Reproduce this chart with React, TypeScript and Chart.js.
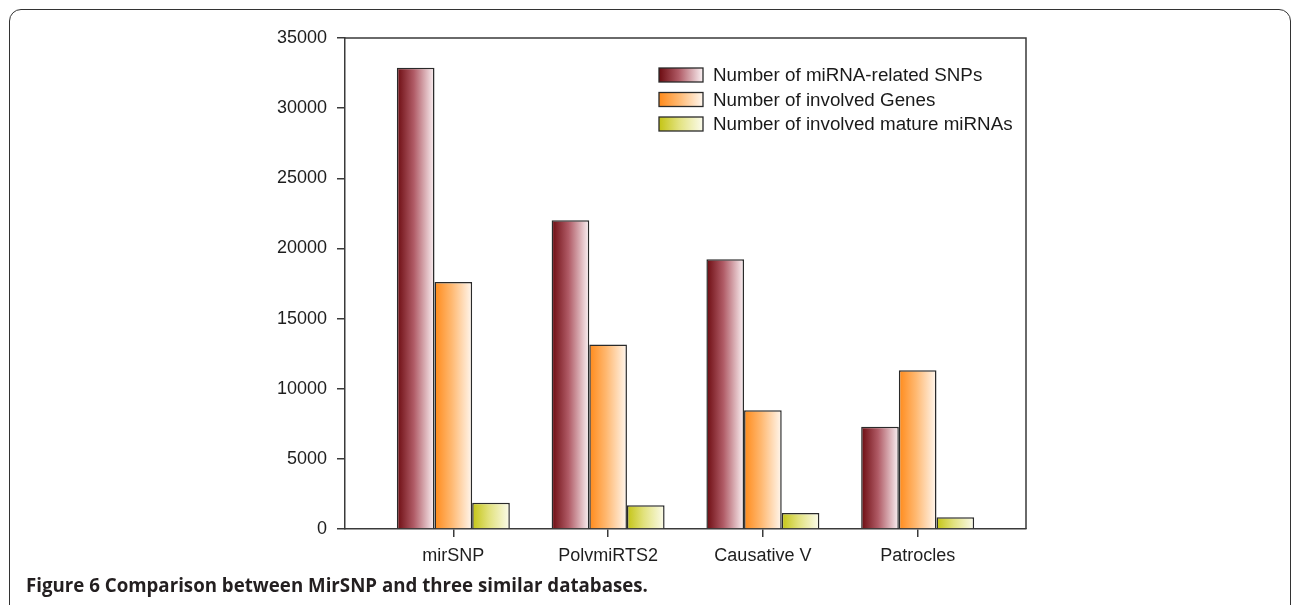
import React, { useEffect, useRef } from "react";
import { Chart, registerables } from "chart.js";

Chart.register(...registerables);

const CATEGORIES = ["mirSNP", "PolvmiRTS2", "Causative V", "Patrocles"];
const SERIES_LABELS = [
  "Number of miRNA-related SNPs",
  "Number of involved Genes",
  "Number of involved mature miRNAs",
];
const SNP_COUNTS = [32880, 22000, 19220, 7280];
const GENE_COUNTS = [17600, 13150, 8470, 11320];
const MIRNA_COUNTS = [1880, 1690, 1140, 835];
const Y_MIN = 0;
const Y_MAX = 35000;
const Y_STEP = 5000;

const SERIES = [SNP_COUNTS, GENE_COUNTS, MIRNA_COUNTS];

const GRADIENT_STOPS: string[][] = [
  ["#6c0b10", "#b05b66", "#fbf2f4"],
  ["#ff8a1a", "#ffb870", "#fff7ef"],
  ["#c4c414", "#e2e27e", "#fbfbec"],
];

const CAT_PCT = 0.73;
const FONT = '"Liberation Sans", Arial, sans-serif';

function makeGradient(c: CanvasRenderingContext2D, left: number, width: number, di: number) {
  const g = c.createLinearGradient(left, 0, left + width, 0);
  const s = GRADIENT_STOPS[di];
  g.addColorStop(0, s[0]);
  g.addColorStop(0.45, s[1]);
  g.addColorStop(1, s[2]);
  return g;
}

function barFill(ctx: any, di: number) {
  const chart = ctx.chart;
  const xs = chart.scales && chart.scales.x;
  if (!xs || ctx.dataIndex === undefined || !chart.chartArea) return GRADIENT_STOPS[di][0];
  const c = xs.getPixelForValue(ctx.dataIndex);
  const cw = xs.getPixelForValue(1) - xs.getPixelForValue(0);
  const gw = cw * CAT_PCT;
  const bw = gw / SERIES.length;
  const left = c - gw / 2 + di * bw;
  return makeGradient(chart.ctx, left, bw, di);
}

const framePlugin = {
  id: "frame",
  afterDatasetsDraw(chart: any) {
    const { left, top, right, bottom } = chart.chartArea;
    const c = chart.ctx;
    c.save();
    c.strokeStyle = "#3a3a3a";
    c.lineWidth = 1.5;
    c.beginPath();
    c.moveTo(left, top);
    c.lineTo(right, top);
    c.lineTo(right, bottom);
    c.stroke();
    c.restore();
  },
};

const legendPlugin = {
  id: "customLegend",
  afterDraw(chart: any) {
    const { left, top } = chart.chartArea;
    const c = chart.ctx;
    const bx = left + 314;
    const bw = 44;
    const bh = 14;
    const tx = left + 368;
    c.save();
    SERIES_LABELS.forEach((label, i) => {
      const cy = top + 37 + i * 24.5;
      c.fillStyle = makeGradient(c, bx, bw, i);
      c.fillRect(bx, cy - bh / 2, bw, bh);
      c.strokeStyle = "#2a2a2a";
      c.lineWidth = 1.3;
      c.strokeRect(bx, cy - bh / 2, bw, bh);
      c.fillStyle = "#1a1a1a";
      c.font = `18.8px ${FONT}`;
      c.textBaseline = "middle";
      c.textAlign = "left";
      c.fillText(label, tx, cy + 1);
    });
    c.restore();
  },
};

export default function App() {
  const ref = useRef<HTMLCanvasElement | null>(null);

  useEffect(() => {
    if (!ref.current) return;
    Chart.defaults.font.family = FONT;
    const chart = new Chart(ref.current, {
      type: "bar",
      data: {
        datasets: SERIES.map((values, di) => ({
          label: SERIES_LABELS[di],
          data: values.map((v, i) => ({ x: i, y: v })),
          backgroundColor: (ctx: any) => barFill(ctx, di),
          borderColor: "#2a2a2a",
          borderWidth: 1.5,
          borderSkipped: "bottom",
          categoryPercentage: CAT_PCT,
          barPercentage: 1,
        })),
      },
      options: {
        responsive: false,
        animation: false,
        events: [],
        layout: { padding: { left: 0, right: 266, top: 38, bottom: 0 } },
        plugins: {
          legend: { display: false },
          tooltip: { enabled: false },
          title: { display: false },
        },
        scales: {
          x: {
            type: "linear",
            min: -0.7,
            max: CATEGORIES.length - 1 + 0.7,
            offset: false,
            afterBuildTicks: (s: any) => {
              s.ticks = CATEGORIES.map((_, i) => ({ value: i }));
            },
            afterFit: (s: any) => {
              s.height = 76;
            },
            ticks: {
              autoSkip: false,
              maxRotation: 0,
              minRotation: 0,
              padding: 8,
              color: "#1e1e1e",
              font: { size: 18, family: FONT },
              callback: (v: any) => CATEGORIES[v as number] ?? "",
            },
            grid: {
              offset: false,
              drawOnChartArea: false,
              drawTicks: true,
              tickLength: 8,
              color: "#3a3a3a",
              lineWidth: 1.5,
            },
            border: { display: true, color: "#3a3a3a", width: 1.5 },
          },
          y: {
            min: Y_MIN,
            max: Y_MAX,
            afterFit: (s: any) => {
              s.width = 345;
            },
            ticks: {
              stepSize: Y_STEP,
              padding: 10,
              color: "#1e1e1e",
              font: { size: 18, family: FONT },
              callback: (v: any) => String(v),
            },
            grid: {
              drawOnChartArea: false,
              drawTicks: true,
              tickLength: 8,
              color: "#3a3a3a",
              lineWidth: 1.5,
            },
            border: { display: true, color: "#3a3a3a", width: 1.5 },
          },
        },
      },
      plugins: [framePlugin, legendPlugin],
    } as any);
    return () => chart.destroy();
  }, []);

  return (
    <div style={{ position: "fixed", left: 0, top: 0, width: 1292, height: 605, overflow: "hidden", background: "#fff" }}>
      <canvas ref={ref} width={1292} height={605} style={{ position: "absolute", left: 0, top: 0, width: 1292, height: 605 }} />
      <div
        style={{
          position: "absolute",
          left: 9,
          top: 9,
          width: 1282,
          height: 700,
          boxSizing: "border-box",
          border: "1.5px solid #333",
          borderRadius: 12,
          pointerEvents: "none",
        }}
      />
      <div
        style={{
          position: "absolute",
          left: 26,
          top: 573,
          fontFamily: '"Open Sans", "Noto Sans", sans-serif',
          fontWeight: 700,
          fontSize: 18.7,
          lineHeight: "24px",
          color: "#231f20",
          whiteSpace: "nowrap",
        }}
      >
        Figure 6 Comparison between MirSNP and three similar databases.
      </div>
    </div>
  );
}
